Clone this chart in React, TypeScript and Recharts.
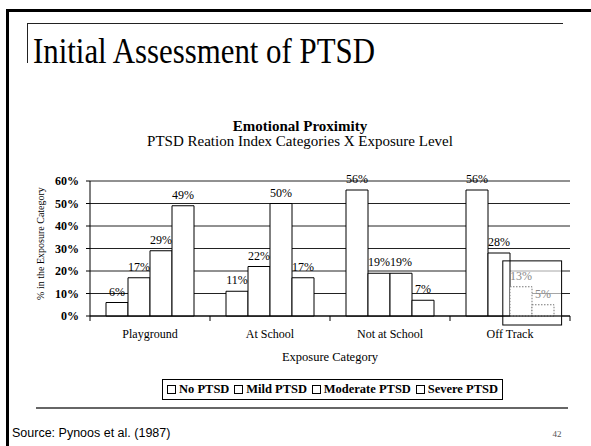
import {
  BarChart,
  Bar,
  XAxis,
  YAxis,
  CartesianGrid,
  Legend,
  LabelList,
  Cell,
  ReferenceArea,
} from "recharts";

const SERIF = '"Liberation Serif", "Times New Roman", serif';
const SANS = '"Liberation Sans", Arial, sans-serif';

// values (% in the exposure category)
const categories = ["Playground", "At School", "Not at School", "Off Track"];
const noPtsd = [6, 11, 56, 56];
const mildPtsd = [17, 22, 19, 28];
const moderatePtsd = [29, 50, 19, 13];
const severePtsd = [49, 17, 7, 5];
const seriesNames = ["No PTSD", "Mild PTSD", "Moderate PTSD", "Severe PTSD"];
const seriesKeys = ["none", "mild", "moderate", "severe"];
const yTicks = [0, 10, 20, 30, 40, 50, 60];

// the slide has a stray selection box over the last two Off Track bars
const boxedCategory = "Off Track";

const data = categories.map((category, i) => ({
  category,
  none: noPtsd[i],
  mild: mildPtsd[i],
  moderate: moderatePtsd[i],
  severe: severePtsd[i],
}));

const isDimmed = (series: number, index: number) =>
  series >= 2 && data[index]?.category === boxedCategory;

function CategoryTick(props: any) {
  const { x, y, payload, index, visibleTicksCount } = props;
  const half = payload?.offset ?? 60;
  const last = index === visibleTicksCount - 1;
  return (
    <g>
      <line x1={x - half} x2={x - half} y1={y} y2={y + 5} stroke="#000" />
      {last && <line x1={x + half} x2={x + half} y1={y} y2={y + 5} stroke="#000" />}
      <text
        x={x}
        y={y + 22}
        textAnchor="middle"
        fontFamily={SERIF}
        fontSize={12}
        fill="#000"
      >
        {payload.value}
      </text>
    </g>
  );
}

const valueLabel = (series: number) => (props: any) => {
  const vb = props.viewBox ?? props;
  const dim = isDimmed(series, props.index);
  return (
    <text
      x={vb.x + vb.width / 2}
      y={vb.y - 7}
      textAnchor="middle"
      fontFamily={SERIF}
      fontSize={12}
      fill={dim ? "#888" : "#000"}
    >
      {props.value}%
    </text>
  );
};

function YTitle(props: any) {
  const vb = props.viewBox;
  const cx = vb.x + 40;
  const cy = vb.y + vb.height / 2 - 5;
  return (
    <text
      transform={`translate(${cx},${cy}) rotate(-90)`}
      textAnchor="middle"
      dominantBaseline="central"
      fontFamily={SERIF}
      fontSize={10}
      fill="#000"
    >
      % in the Exposure Category
    </text>
  );
}

const boxShape = (outline: boolean) => (p: any) => (
  <rect
    x={p.x + p.width * 0.44}
    y={p.y}
    width={p.width * 0.49}
    height={p.height}
    fill={outline ? "none" : "#fff"}
    fillOpacity={outline ? 0 : 0.6}
    stroke={outline ? "#000" : "none"}
  />
);

function LegendBox({ payload }: any) {
  const items = [...(payload ?? [])].sort(
    (a: any, b: any) => seriesNames.indexOf(a.value) - seriesNames.indexOf(b.value)
  );
  return (
    <div
      style={{
        display: "flex",
        justifyContent: "space-between",
        alignItems: "center",
        boxSizing: "border-box",
        width: 341,
        height: 21,
        border: "1px solid #000",
        padding: "0 4px",
        background: "#fff",
        fontFamily: SERIF,
        fontWeight: "bold",
        fontSize: 12.5,
        color: "#000",
      }}
    >
      {items.map((p: any) => (
        <span key={p.value} style={{ display: "flex", alignItems: "center" }}>
          <span
            style={{
              display: "inline-block",
              width: 7,
              height: 7,
              border: "1px solid #000",
              marginRight: 3,
            }}
          />
          {p.value}
        </span>
      ))}
    </div>
  );
}

export default function App() {
  return (
    <div
      style={{
        position: "absolute",
        left: 0,
        top: 0,
        width: 591,
        height: 446,
        background: "#fff",
        overflow: "hidden",
      }}
    >
      {/* slide frame and texts */}
      <svg width={591} height={446} style={{ position: "absolute", left: 0, top: 0 }}>
        <rect x={6} y={9} width={585} height={3} fill="#000" />
        <rect x={6} y={9} width={3} height={437} fill="#000" />
        <line x1={27} y1={23.5} x2={563} y2={23.5} stroke="#222" />
        <line x1={27.5} y1={23} x2={27.5} y2={63} stroke="#222" />
        <text
          x={33}
          y={62.5}
          fontFamily={SERIF}
          fontSize={35}
          textLength={342}
          lengthAdjust="spacingAndGlyphs"
          fill="#000"
        >
          Initial Assessment of PTSD
        </text>
        <text x={300} y={131} textAnchor="middle" fontFamily={SERIF} fontSize={15} fontWeight="bold">
          Emotional Proximity
        </text>
        <text x={300} y={146} textAnchor="middle" fontFamily={SERIF} fontSize={15}>
          PTSD Reation Index Categories X Exposure Level
        </text>
        <line x1={36} y1={408} x2={568} y2={408} stroke="#333" strokeWidth={1.5} />
        <text x={12} y={437} fontFamily={SANS} fontSize={12.5} fill="#000">
          Source: Pynoos et al. (1987)
        </text>
        <text x={557} y={437} textAnchor="middle" fontFamily={SERIF} fontSize={9} fill="#555">
          42
        </text>
      </svg>

      <div style={{ position: "absolute", left: 0, top: 0 }}>
        <BarChart
          width={591}
          height={446}
          data={data}
          margin={{ top: 181, right: 21, bottom: 80, left: 0 }}
          barCategoryGap={16}
          barGap={0}
        >
          <CartesianGrid vertical={false} stroke="#222" />
          <XAxis
            dataKey="category"
            height={50}
            interval={0}
            axisLine={{ stroke: "#000" }}
            tickLine={false}
            tickSize={0}
            tickMargin={0}
            tick={CategoryTick}
            label={{
              value: "Exposure Category",
              position: "insideBottom",
              offset: 5,
              fill: "#000",
              fontFamily: SERIF,
              fontSize: 12.5,
            }}
          />
          <YAxis
            domain={[0, 60]}
            ticks={yTicks}
            interval={0}
            width={90}
            tickFormatter={(v) => `${v}%`}
            axisLine={{ stroke: "#000" }}
            tickLine={{ stroke: "#000" }}
            tickSize={4}
            tickMargin={7}
            tick={{ fill: "#000", fontFamily: SERIF, fontSize: 12, fontWeight: "bold" }}
            label={{ content: YTitle }}
          />
          <YAxis
            yAxisId="frame"
            orientation="right"
            width={0}
            tick={false}
            tickLine={false}
            axisLine={{ stroke: "#000" }}
          />
          <ReferenceArea
            x1={boxedCategory}
            x2={boxedCategory}
            y1={-4}
            y2={24.5}
            ifOverflow="visible"
            shape={boxShape(false)}
          />
          {seriesKeys.map((key, s) => (
            <Bar
              key={key}
              dataKey={key}
              name={seriesNames[s]}
              fill="#fff"
              stroke="#000"
              strokeWidth={1}
              isAnimationActive={false}
            >
              {data.map((_, i) => (
                <Cell
                  key={i}
                  stroke={isDimmed(s, i) ? "#777" : "#000"}
                  strokeDasharray={isDimmed(s, i) ? "1.5 1.5" : undefined}
                />
              ))}
              <LabelList dataKey={key} content={valueLabel(s)} />
            </Bar>
          ))}
          <ReferenceArea
            x1={boxedCategory}
            x2={boxedCategory}
            y1={-4}
            y2={24.5}
            ifOverflow="visible"
            shape={boxShape(true)}
            zIndex={1000}
          />
          <Legend
            verticalAlign="middle"
            content={LegendBox}
            wrapperStyle={{ top: 379, left: 162, width: 341 }}
          />
        </BarChart>
      </div>
    </div>
  );
}
